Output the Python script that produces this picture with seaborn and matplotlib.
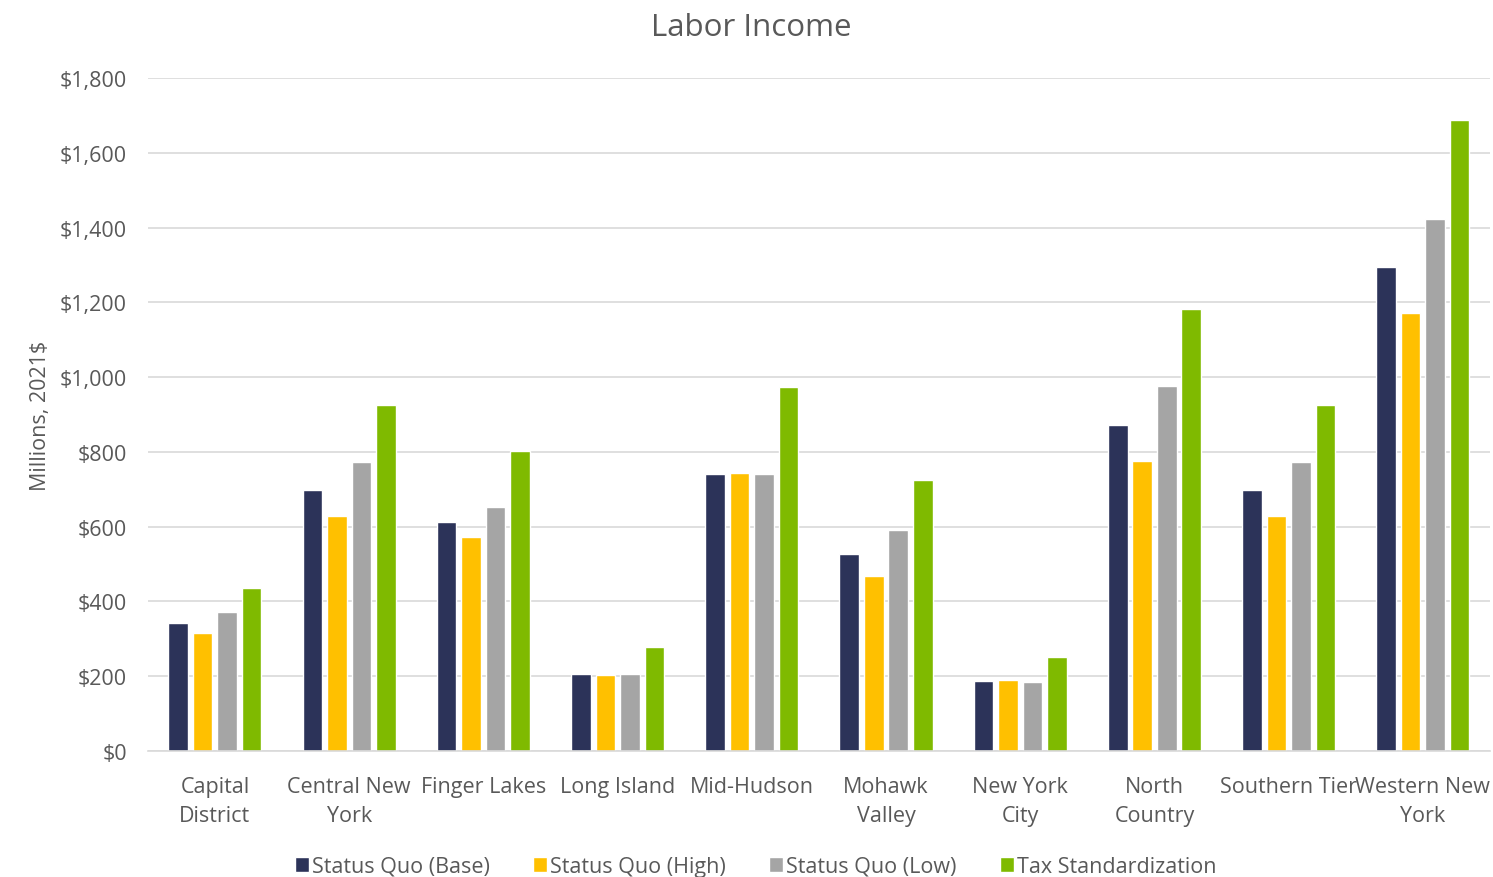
import matplotlib
matplotlib.use("Agg")
import matplotlib.pyplot as plt
import seaborn as sns
import pandas as pd

regions = ["Capital\nDistrict", "Central New\nYork", "Finger Lakes", "Long Island", "Mid-Hudson",
           "Mohawk\nValley", "New York\nCity", "North\nCountry", "Southern Tier", "Western New\nYork"]
series = ["Status Quo (Base)", "Status Quo (High)", "Status Quo (Low)", "Tax Standardization"]
base = [342, 698, 612, 206, 741, 527, 187, 872, 698, 1294]
high = [315, 628, 572, 203, 743, 468, 190, 776, 628, 1171]
low = [372, 773, 652, 206, 741, 591, 185, 976, 773, 1423]
tax = [436, 925, 802, 278, 973, 725, 251, 1182, 925, 1688]
colors = ["#2C3359", "#FFC000", "#A5A5A5", "#7FBA00"]

rows = []
for s, vals in zip(series, [base, high, low, tax]):
    for r, v in zip(regions, vals):
        rows.append({"Region": r, "Series": s, "Value": v})
df = pd.DataFrame(rows)

sns.set_theme(style="white")
plt.rcParams['font.family'] = ['Open Sans', 'DejaVu Sans']

fig = plt.figure(figsize=(14.93, 8.78), dpi=100)
ax = fig.add_axes([0.099, 0.1435, 0.899, 0.7665])
sns.barplot(data=df, x="Region", y="Value", hue="Series", palette=colors,
            width=0.73, gap=0.2, ax=ax, saturation=1, legend=True)

ax.set_ylim(0, 1800)
ax.set_xlim(-0.5, 9.5)
ax.set_yticks(range(0, 1801, 200))
ax.set_yticklabels([f"${v:,}" for v in range(0, 1801, 200)])
ax.yaxis.grid(True, color="#D9D9D9", linewidth=1.2)
ax.set_axisbelow(True)
for side in ["left", "right", "top"]:
    ax.spines[side].set_visible(False)
ax.spines["bottom"].set_color("#D9D9D9")
ax.spines["bottom"].set_linewidth(1.2)
ax.tick_params(axis="both", colors="#595959", labelsize=15.5, length=0)
ax.tick_params(axis="x", pad=18)
ax.tick_params(axis="y", pad=15)
for lbl in ax.get_xticklabels():
    lbl.set_linespacing(1.5)
ax.set_xlabel("")
ax.set_ylabel("Millions, 2021$", fontsize=15.5, color="#595959", labelpad=6)
fig.suptitle("Labor Income", fontsize=22.5, color="#595959", x=0.503, y=0.985, va="top")

handles, labels = ax.get_legend_handles_labels()
ax.get_legend().remove()
fig.legend(handles, labels, loc="center", bbox_to_anchor=(0.506, 0.012), ncol=4, frameon=False,
           fontsize=15.5, labelcolor="#595959", handlelength=0.65, handleheight=0.65,
           handletextpad=0.15, columnspacing=2.0)

fig.savefig("out.png", dpi=100)
